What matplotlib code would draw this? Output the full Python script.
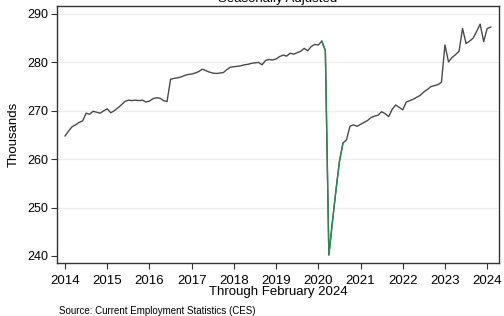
import numpy as np
import matplotlib
matplotlib.use("Agg")
import matplotlib.pyplot as plt

plt.rcParams['font.family'] = ['Liberation Sans', 'DejaVu Sans']

start_year = 2014
values = [
    # 2014
    264.8, 265.8, 266.7, 267.1, 267.6, 267.9, 269.5, 269.3, 269.9, 269.7, 269.5, 270.0,
    # 2015
    270.4, 269.6, 270.0, 270.6, 271.2, 271.9, 272.2, 272.1, 272.2, 272.1, 272.2, 271.8,
    # 2016
    272.0, 272.5, 272.7, 272.6, 272.1, 271.9, 276.5, 276.7, 276.8, 277.0, 277.3, 277.5,
    # 2017
    277.6, 277.8, 278.1, 278.6, 278.3, 278.0, 277.8, 277.7, 277.8, 277.9, 278.5, 279.0,
    # 2018
    279.1, 279.2, 279.3, 279.5, 279.6, 279.8, 279.9, 280.0, 279.5, 280.4, 280.6, 280.5,
    # 2019
    280.7, 281.2, 281.5, 281.3, 281.9, 281.7, 282.0, 282.3, 282.9, 282.4, 283.3, 283.7,
    # 2020
    283.6, 284.4, 282.4, 240.2, 247.0, 253.5, 259.5, 263.3, 264.0, 266.8, 267.1, 266.8,
    # 2021
    267.2, 267.6, 268.0, 268.6, 268.9, 269.1, 269.8, 269.4, 268.8, 270.3, 271.2, 270.7,
    # 2022
    270.2, 271.8, 272.1, 272.4, 272.8, 273.2, 273.9, 274.4, 275.0, 275.2, 275.4, 275.9,
    # 2023
    283.6, 280.1, 281.0, 281.6, 282.3, 287.0, 283.9, 284.4, 285.0, 286.4, 287.9, 284.3,
    # 2024
    287.0, 287.3,
]
green_start = "2020-02"
green_end = "2020-08"

year_ticks = list(range(2014, 2025))
y_ticks = [240, 250, 260, 270, 280, 290]

title = "Seasonally Adjusted"
xlabel = "Through February 2024"
ylabel = "Thousands"
source = "Source: Current Employment Statistics (CES)"

n = len(values)
x = start_year + np.arange(n) / 12.0
vals = np.array(values)

def idx(s):
    y, m = s.split("-")
    return (int(y) - start_year) * 12 + int(m) - 1

gs, ge = idx(green_start), idx(green_end)

W, H = 504, 316
fig = plt.figure(figsize=(W / 100, H / 100), dpi=100)
ax = fig.add_axes([57 / W, (H - 263) / H, (499 - 57) / W, (263 - 6) / H])

for yt in y_ticks[1:]:
    ax.axhline(yt, color='#eeeeee', lw=0.9, zorder=0)

ax.plot(x, vals, color='#4a4a4a', lw=1.0, zorder=2)
ax.plot(x[gs:ge + 1], vals[gs:ge + 1], color='#2a8a55', lw=1.0, zorder=3)

ax.set_xlim(2013.81, 2024.28)
ax.set_ylim(238.55, 291.65)
ax.set_xticks(year_ticks)
ax.set_xticklabels([str(t) for t in year_ticks], fontsize=9.5)
ax.set_yticks(y_ticks)
ax.set_yticklabels([str(t) for t in y_ticks], fontsize=9)
ax.tick_params(axis='both', direction='out', length=4, width=0.8, color='#333333', pad=2)
ax.tick_params(axis='x', pad=5)

for sp in ax.spines.values():
    sp.set_color('#333333')
    sp.set_linewidth(1.0)

ax.set_ylabel(ylabel, fontsize=9.5, labelpad=6)
fig.text(278 / W, 1 - 292.5 / H, xlabel, ha='center', va='center', fontsize=9.5)
fig.text(59 / W, 1 - 310.5 / H, source, ha='left', va='center', fontsize=7)
fig.text(278 / W, 1 - 2 / H, title, ha='center', va='baseline', fontsize=9.5)

fig.savefig("out.png", dpi=100, facecolor='white')
